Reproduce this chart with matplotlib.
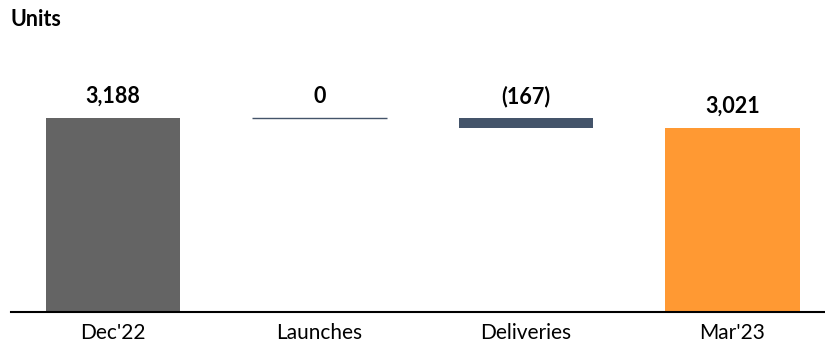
import matplotlib.pyplot as plt

categories = ["Dec'22", "Launches", "Deliveries", "Mar'23"]
changes = [3188, 0, -167, 3021]
labels = ["3,188", "0", "(167)", "3,021"]
colors = ["#646464", "#44546A", "#44546A", "#FF9933"]

plt.rcParams['font.family'] = ['Lato', 'DejaVu Sans']

# waterfall bottoms / heights
bottoms = []
heights = []
running = 0
for i, c in enumerate(changes):
    if i == 0 or i == len(changes) - 1:
        bottoms.append(0)
        heights.append(c)
        running = c
    else:
        new = running + c
        bottoms.append(min(running, new))
        heights.append(abs(c))
        running = new

fig = plt.figure(figsize=(8.25, 3.47), dpi=100)
ax = fig.add_axes([11 / 825, 35 / 347, 814 / 825, 272 / 347])

x = range(len(categories))
for i in x:
    if heights[i] == 0:
        ax.bar(i, 0, bottom=bottoms[i], width=0.65, color='none',
               edgecolor=colors[i], linewidth=1)
    else:
        ax.bar(i, heights[i], bottom=bottoms[i], width=0.65, color=colors[i])
    ax.annotate(labels[i], (i, bottoms[i] + heights[i]), xytext=(0, 8),
                textcoords='offset points', ha='center', va='bottom',
                fontsize=15.5, fontweight='bold')

ax.set_xlim(-0.494, 3.448)
ax.set_ylim(0, 4470)
ax.set_xticks(list(x))
ax.set_xticklabels(categories, fontsize=15)
ax.tick_params(axis='x', length=0, pad=8)
ax.set_yticks([])
for s in ['top', 'right', 'left']:
    ax.spines[s].set_visible(False)
ax.spines['bottom'].set_linewidth(1.5)

fig.text(10 / 825, 1 - 20 / 347, "Units", fontsize=15.5, fontweight='bold',
         va='center', ha='left')

fig.savefig("out.png", dpi=100)
